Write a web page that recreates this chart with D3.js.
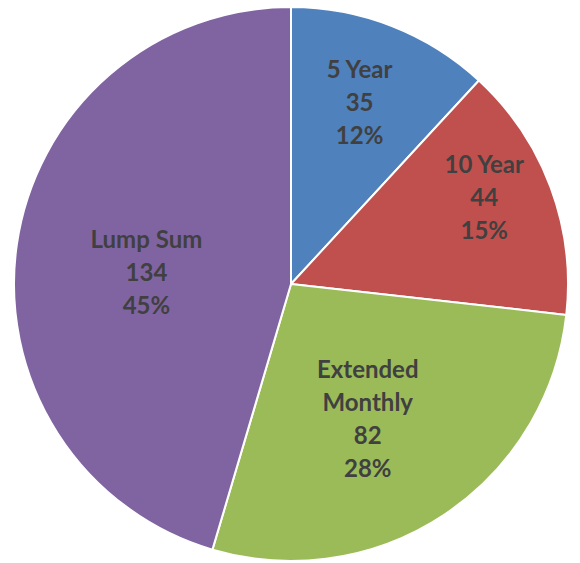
<!DOCTYPE html>
<html>
<head>
<meta charset="utf-8">
<script src="https://cdn.jsdelivr.net/npm/d3@7"></script>
<style>
  body { margin: 0; background: #fff; }
</style>
</head>
<body>
<div id="chart"></div>
<script>
const categories = ["5 Year", "10 Year", "Extended Monthly", "Lump Sum"];
const values = [35, 44, 82, 134];
const colors = ["#4F81BD", "#C0504D", "#9BBB59", "#8064A2"];

// label lines as shown on the chart
const nameLines = [["5 Year"], ["10 Year"], ["Extended", "Monthly"], ["Lump Sum"]];

const width = 580, height = 563;
const cx = 291, cy = 284, radius = 277;
// how far out each label sits, as a share of the radius, plus a small nudge
const labelPos = [0.70, 0.76, 0.56, 0.52];
const labelNudge = [[-2, 0], [-4, -12], [-9, 6], [-2, 10]];

const svg = d3.select("#chart").append("svg")
  .attr("width", width)
  .attr("height", height);

const g = svg.append("g").attr("transform", "translate(" + cx + "," + cy + ")");

const total = d3.sum(values);
const data = categories.map((c, i) => ({ name: c, value: values[i], i: i }));

const pie = d3.pie().value(d => d.value).sort(null);
const arc = d3.arc().innerRadius(0).outerRadius(radius);

const slices = pie(data);

g.selectAll("path")
  .data(slices)
  .enter().append("path")
  .attr("d", arc)
  .attr("fill", d => colors[d.data.i])
  .attr("stroke", "#fff")
  .attr("stroke-width", 2)
  .attr("stroke-linejoin", "round");

const lineH = 33;

const labels = g.selectAll("text")
  .data(slices)
  .enter().append("text")
  .attr("transform", d => {
    const r = radius * labelPos[d.data.i];
    const a = (d.startAngle + d.endAngle) / 2;
    const n = labelNudge[d.data.i];
    return "translate(" + (Math.sin(a) * r + n[0]) + "," + (-Math.cos(a) * r + n[1]) + ")";
  })
  .attr("text-anchor", "middle")
  .attr("fill", "#404040")
  .style("font-family", "Lato, 'Open Sans', sans-serif")
  .style("font-weight", "bold")
  .style("font-size", "24px");

labels.each(function(d) {
  const lines = nameLines[d.data.i].concat([String(d.data.value), Math.round(d.data.value / total * 100) + "%"]);
  const t = d3.select(this);
  const start = -((lines.length - 1) * lineH) / 2 + 8;
  lines.forEach((l, k) => {
    t.append("tspan")
      .attr("x", 0)
      .attr("y", start + k * lineH)
      .text(l);
  });
});
</script>
</body>
</html>
